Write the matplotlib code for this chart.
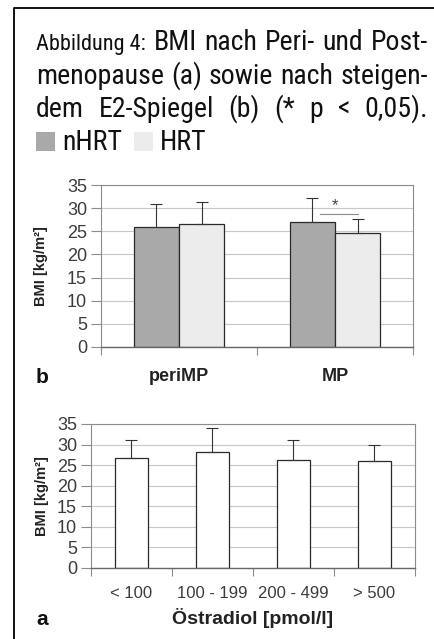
import matplotlib
matplotlib.use('Agg')
import matplotlib.pyplot as plt
from matplotlib import font_manager
from matplotlib.patches import Rectangle
from matplotlib.lines import Line2D
import numpy as np

# ---------------- data ----------------
phase_categories = ['periMP', 'MP']
nhrt_mean = [25.9, 27.1]
nhrt_sd = [4.9, 5.1]
hrt_mean = [26.6, 24.6]
hrt_sd = [4.7, 3.0]
signif_index = 1          # MP: nHRT vs HRT, * p < 0.05

e2_categories = ['< 100', '100 - 199', '200 - 499', '> 500']
e2_mean = [26.8, 28.1, 26.2, 25.9]
e2_sd = [4.2, 5.9, 4.8, 4.1]

y_ticks = [0, 5, 10, 15, 20, 25, 30, 35]

title_lines = [
    [('Abbildung 4:', 'small'), ('BMI', 'big'), ('nach', 'big'), ('Peri-', 'big'),
     ('und', 'big'), ('Post-', 'big')],
    [(w, 'big') for w in 'menopause (a) sowie nach steigen-'.split()],
    [(w, 'big') for w in 'dem E2-Spiegel (b) (* p < 0,05).'.split()],
]
legend_labels = ['nHRT', 'HRT']

# ---------------- style ----------------
W, H = 435, 639
plt.rcParams['font.family'] = ['Liberation Sans', 'DejaVu Sans']

# look for a narrow / condensed face for the title
title_font = None
title_stretch = 'normal'
cands = []
for f in font_manager.fontManager.ttflist:
    nm = f.name.lower()
    fn = f.fname.lower()
    if f.weight in (400, 'normal', 'regular') and f.style == 'normal':
        if 'narrow' in nm or 'condensed' in nm:
            cands.append((f.name, 'normal'))
        elif ('condensed' in fn or 'narrow' in fn) and 'bold' not in fn and 'light' not in fn:
            cands.append((f.name, f.stretch))
pref = ['liberation sans narrow', 'roboto condensed', 'dejavu sans condensed',
        'open sans condensed', 'noto sans condensed']
for p in pref:
    for nm, st in cands:
        if nm.lower() == p:
            title_font, title_stretch = nm, st
            break
    if title_font:
        break
if title_font is None:
    for nm, st in cands:
        if 'dejavu' in nm.lower() or 'roboto' in nm.lower() or 'noto' in nm.lower() \
                or 'liberation' in nm.lower() or 'open' in nm.lower():
            title_font, title_stretch = nm, st
            break
if title_font is None:
    title_font, title_stretch = 'Roboto', 'normal'
title_family = [title_font, 'Roboto', 'DejaVu Sans']

c_nhrt = '#a9a9a9'
c_hrt = '#ececec'
edge = '#2a2a2a'
grid_c = '#c8c8c8'
spine_c = '#8c8c8c'
tick_c = '#3c3c3c'

fig = plt.figure(figsize=(W / 100, H / 100), dpi=100)
fig.patch.set_facecolor('white')


def fx(px):
    return px / W


def fy(py):
    return 1 - py / H


# frame (left and top rules)
fig.add_artist(Line2D([fx(14), fx(14), fx(W)], [fy(H), fy(8), fy(8)],
                      color='black', lw=1.3, transform=fig.transFigure))

# ---------------- title (justified) ----------------
fig.canvas.draw()
renderer = fig.canvas.get_renderer()

base_size = 24.0
probe = fig.text(0, 0, 'menopause (a) sowie nach steigen-', fontsize=base_size,
                 family=title_family, fontstretch=title_stretch)
w_probe = probe.get_window_extent(renderer).width
probe.remove()
big = min(base_size, base_size * 390 / w_probe)
small = big * 0.8
sizes = {'big': big, 'small': small}

x_left, x_right = 36, 428
baselines = [50, 84, 117]
for pieces, yb in zip(title_lines, baselines):
    texts = [fig.text(0, 0, s, fontsize=sizes[k], family=title_family,
                      fontstretch=title_stretch,
                      va='baseline', ha='left', color='#111111')
             for s, k in pieces]
    widths = [t.get_window_extent(renderer).width for t in texts]
    gap = (x_right - x_left - sum(widths)) / (len(texts) - 1)
    x = x_left
    for t, w in zip(texts, widths):
        t.set_position((fx(x), fy(yb)))
        x += w + gap

# legend line
leg_y_base = 150
sw = 19
x = 36
for lab, col in zip(legend_labels, [c_nhrt, c_hrt]):
    fig.add_artist(Rectangle((fx(x), fy(leg_y_base + 1)), sw / W, sw / H,
                             facecolor=col, edgecolor='none',
                             transform=fig.transFigure))
    t = fig.text(fx(x + sw + 7), fy(leg_y_base), lab, fontsize=big,
                 family=title_family, fontstretch=title_stretch,
                 va='baseline', ha='left', color='#111111')
    x = x + sw + 7 + t.get_window_extent(renderer).width + 12


def style_axes(ax, ncat):
    ax.set_ylim(0, 35)
    ax.set_xlim(-0.5, ncat - 0.5)
    ax.set_yticks(y_ticks)
    ax.set_axisbelow(True)
    ax.yaxis.grid(True, color=grid_c, lw=0.8)
    for s in ['top', 'right', 'left']:
        ax.spines[s].set_color(spine_c)
        ax.spines[s].set_linewidth(0.8)
    ax.spines['bottom'].set_color('#666666')
    ax.spines['bottom'].set_linewidth(1.0)
    ax.tick_params(axis='y', length=7, width=0.8, color=spine_c, pad=3,
                   labelsize=13, labelcolor=tick_c)
    ax.set_xticks(np.arange(ncat + 1) - 0.5)
    ax.set_xticklabels([])
    ax.tick_params(axis='x', which='major', length=6, width=0.8, color=spine_c)
    ax.set_xticks(np.arange(ncat), minor=True)
    ax.tick_params(axis='x', which='minor', length=0)


# ---------------- panel b ----------------
axb = fig.add_axes([fx(101), fy(347), (413 - 101) / W, (347 - 185) / H])
style_axes(axb, len(phase_categories))
xb = np.arange(len(phase_categories))
bw = 0.29
axb.bar(xb - bw / 2, nhrt_mean, bw, color=c_nhrt, edgecolor=edge, lw=0.9, zorder=2)
axb.bar(xb + bw / 2, hrt_mean, bw, color=c_hrt, edgecolor=edge, lw=0.9, zorder=2)
axb.errorbar(xb - bw / 2, nhrt_mean, yerr=[np.zeros(len(xb)), nhrt_sd], fmt='none',
             ecolor='#333333', elinewidth=0.8, capsize=4.5, capthick=0.8, zorder=3)
axb.errorbar(xb + bw / 2, hrt_mean, yerr=[np.zeros(len(xb)), hrt_sd], fmt='none',
             ecolor='#333333', elinewidth=0.8, capsize=4.5, capthick=0.8, zorder=3)
axb.set_xticklabels(phase_categories, minor=True, fontsize=13, fontweight='bold',
                    color='#222222')
axb.tick_params(axis='x', which='minor', pad=15)
axb.set_ylabel('BMI [kg/m²]', fontsize=10.5, fontweight='bold', color='#222222')
axb.yaxis.set_label_coords(-0.17, 0.5)

# significance mark
i = signif_index
sig_y = hrt_mean[i] + hrt_sd[i] + 1.2
axb.plot([xb[i] - bw / 2 + 0.05, xb[i] + bw / 2], [sig_y, sig_y], color='#8a8a8a',
         lw=0.8, zorder=3)
axb.text(xb[i], sig_y + 0.2, '*', ha='center', va='bottom', fontsize=12,
         color='#444444')

fig.text(fx(36), fy(383), 'b', fontsize=15, fontweight='bold', ha='left',
         va='baseline', color='#111111')

# ---------------- panel a ----------------
axa = fig.add_axes([fx(91), fy(568), (415 - 91) / W, (568 - 424) / H])
style_axes(axa, len(e2_categories))
xa = np.arange(len(e2_categories))
aw = 0.4
axa.bar(xa, e2_mean, aw, color='white', edgecolor=edge, lw=0.9, zorder=2)
axa.errorbar(xa, e2_mean, yerr=[np.zeros(len(xa)), e2_sd], fmt='none',
             ecolor='#333333', elinewidth=0.8, capsize=4.5, capthick=0.8, zorder=3)
axa.set_xticklabels(e2_categories, minor=True, fontsize=12, color=tick_c)
axa.tick_params(axis='x', which='minor', pad=13)
axa.set_xlabel('Östradiol [pmol/l]', fontsize=14, fontweight='bold', color='#222222',
               labelpad=5)
axa.set_ylabel('BMI [kg/m²]', fontsize=10.5, fontweight='bold', color='#222222')
axa.yaxis.set_label_coords(-0.13, 0.5)

fig.text(fx(36), fy(625), 'a', fontsize=15, fontweight='bold', ha='left',
         va='baseline', color='#111111')

fig.savefig('out.png', dpi=100, facecolor='white')
